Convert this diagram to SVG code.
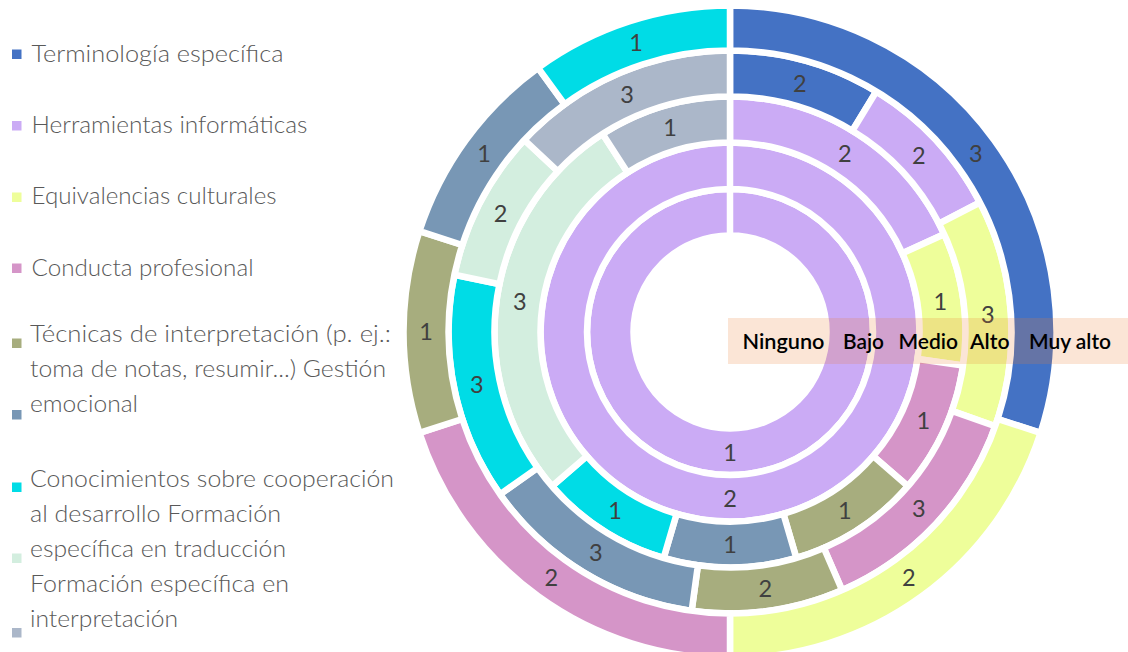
<svg xmlns="http://www.w3.org/2000/svg" width="1128" height="652" viewBox="0 0 1128 652">
<style>
.seg{stroke:#FFFFFF;stroke-width:6.5;stroke-linejoin:miter}
.c-blue{fill:#4472C4}.c-purple{fill:#CBABF5}.c-yellow{fill:#EEFE9A}.c-pink{fill:#D595C8}
.c-olive{fill:#A7AD7E}.c-steel{fill:#7897B5}.c-cyan{fill:#00DCE6}.c-mint{fill:#D3EEDF}.c-grey{fill:#ABB7C9}
.val{font-family:Lato,"Noto Sans","Liberation Sans",sans-serif;font-size:23.5px;fill:#404040;text-anchor:middle}
.leg{font-family:Lato,"Noto Sans","Liberation Sans",sans-serif;font-size:24px;font-weight:300;fill:#595959}
.band{font-family:Lato,"Noto Sans","Liberation Sans",sans-serif;font-size:20.5px;font-weight:600;fill:#000000}
</style>
<rect x="0" y="0" width="1128" height="652" fill="#FFFFFF"/>
<g id="legend">
<g id="leg-terminologia"><rect class="c-blue" x="12" y="49.5" width="9.5" height="9.5"/><text class="leg" x="31.5" y="62" textLength="252" lengthAdjust="spacingAndGlyphs">Terminología específica</text></g>
<g id="leg-herramientas"><rect class="c-purple" x="12" y="121" width="9.5" height="9.5"/><text class="leg" x="31.5" y="133" textLength="276" lengthAdjust="spacingAndGlyphs">Herramientas informáticas</text></g>
<g id="leg-equivalencias"><rect class="c-yellow" x="12" y="192.5" width="9.5" height="9.5"/><text class="leg" x="31.5" y="204" textLength="245" lengthAdjust="spacingAndGlyphs">Equivalencias culturales</text></g>
<g id="leg-conducta"><rect class="c-pink" x="12" y="263.5" width="9.5" height="9.5"/><text class="leg" x="31.5" y="275.5" textLength="222" lengthAdjust="spacingAndGlyphs">Conducta profesional</text></g>
<g id="leg-tecnicas"><rect class="c-olive" x="12" y="338.5" width="9.5" height="9.5"/><text class="leg" x="30" y="342" textLength="361" lengthAdjust="spacingAndGlyphs">Técnicas de interpretación (p. ej.:</text><text class="leg" x="30" y="377" textLength="356" lengthAdjust="spacingAndGlyphs">toma de notas, resumir...) Gestión</text></g>
<g id="leg-emocional"><rect class="c-steel" x="12" y="410" width="9.5" height="9.5"/><text class="leg" x="30" y="412" textLength="108" lengthAdjust="spacingAndGlyphs">emocional</text></g>
<g id="leg-cooperacion"><rect class="c-cyan" x="12" y="482.5" width="9.5" height="9.5"/><text class="leg" x="30" y="487" textLength="364" lengthAdjust="spacingAndGlyphs">Conocimientos sobre cooperación</text><text class="leg" x="30" y="522" textLength="251" lengthAdjust="spacingAndGlyphs">al desarrollo Formación</text></g>
<g id="leg-traduccion"><rect class="c-mint" x="12" y="553.5" width="9.5" height="9.5"/><text class="leg" x="30" y="557" textLength="256" lengthAdjust="spacingAndGlyphs">específica en traducción</text><text class="leg" x="30" y="592" textLength="259" lengthAdjust="spacingAndGlyphs">Formación específica en</text></g>
<g id="leg-interpretacion"><rect class="c-grey" x="12" y="628" width="9.5" height="9.5"/><text class="leg" x="30" y="627" textLength="148" lengthAdjust="spacingAndGlyphs">interpretación</text></g>
</g>
<g id="ring1-ninguno">
<path class="seg c-purple" d="M730,189 A143,143 0 0 1 730,475 A143,143 0 0 1 730,189 L730,235.5 A96.5,96.5 0 0 0 730,428.5 A96.5,96.5 0 0 0 730,235.5 Z"/>
<text class="val" x="730" y="460.5">1</text>
</g>
<g id="ring2-bajo">
<path class="seg c-purple" d="M730,142.5 A189.5,189.5 0 0 1 730,521.5 A189.5,189.5 0 0 1 730,142.5 L730,189 A143,143 0 0 0 730,475 A143,143 0 0 0 730,189 Z"/>
<text class="val" x="730" y="506.5">2</text>
</g>
<g id="ring3-medio">
<path class="seg c-purple" d="M730,96.5 A235.5,235.5 0 0 1 944.22,234.17 L902.38,253.28 A189.5,189.5 0 0 0 730,142.5 Z"/>
<path class="seg c-yellow" d="M944.22,234.17 A235.5,235.5 0 0 1 963.10,365.51 L917.57,358.97 A189.5,189.5 0 0 0 902.38,253.28 Z"/>
<path class="seg c-pink" d="M963.10,365.51 A235.5,235.5 0 0 1 907.98,486.22 L873.21,456.10 A189.5,189.5 0 0 0 917.57,358.97 Z"/>
<path class="seg c-olive" d="M907.98,486.22 A235.5,235.5 0 0 1 796.35,557.96 L783.39,513.83 A189.5,189.5 0 0 0 873.21,456.10 Z"/>
<path class="seg c-steel" d="M796.35,557.96 A235.5,235.5 0 0 1 663.65,557.96 L676.61,513.83 A189.5,189.5 0 0 0 783.39,513.83 Z"/>
<path class="seg c-cyan" d="M663.65,557.96 A235.5,235.5 0 0 1 552.02,486.22 L586.79,456.10 A189.5,189.5 0 0 0 676.61,513.83 Z"/>
<path class="seg c-mint" d="M552.02,486.22 A235.5,235.5 0 0 1 602.68,133.89 L627.55,172.58 A189.5,189.5 0 0 0 586.79,456.10 Z"/>
<path class="seg c-grey" d="M602.68,133.89 A235.5,235.5 0 0 1 730,96.5 L730,142.5 A189.5,189.5 0 0 0 627.55,172.58 Z"/>
<text class="val" x="844.9" y="161.5">2</text>
<text class="val" x="940.3" y="310">1</text>
<text class="val" x="923.3" y="428.5">1</text>
<text class="val" x="844.9" y="519">1</text>
<text class="val" x="730" y="552.5">1</text>
<text class="val" x="615.1" y="519">1</text>
<text class="val" x="519.7" y="310">3</text>
<text class="val" x="670.1" y="136">1</text>
</g>
<g id="ring4-alto">
<path class="seg c-blue" d="M730,50.5 A281.5,281.5 0 0 1 876.26,91.48 L852.36,130.78 A235.5,235.5 0 0 0 730,96.5 Z"/>
<path class="seg c-purple" d="M876.26,91.48 A281.5,281.5 0 0 1 979.94,202.49 L939.10,223.66 A235.5,235.5 0 0 0 852.36,130.78 Z"/>
<path class="seg c-yellow" d="M979.94,202.49 A281.5,281.5 0 0 1 995.25,426.27 L951.90,410.86 A235.5,235.5 0 0 0 939.10,223.66 Z"/>
<path class="seg c-pink" d="M995.25,426.27 A281.5,281.5 0 0 1 842.15,590.20 L823.82,548.00 A235.5,235.5 0 0 0 951.90,410.86 Z"/>
<path class="seg c-olive" d="M842.15,590.20 A281.5,281.5 0 0 1 691.67,610.88 L697.93,565.31 A235.5,235.5 0 0 0 823.82,548.00 Z"/>
<path class="seg c-steel" d="M691.67,610.88 A281.5,281.5 0 0 1 500.02,494.34 L537.60,467.81 A235.5,235.5 0 0 0 697.93,565.31 Z"/>
<path class="seg c-cyan" d="M500.02,494.34 A281.5,281.5 0 0 1 454.39,274.73 L499.43,284.09 A235.5,235.5 0 0 0 537.60,467.81 Z"/>
<path class="seg c-mint" d="M454.39,274.73 A281.5,281.5 0 0 1 524.27,139.86 L557.89,171.26 A235.5,235.5 0 0 0 499.43,284.09 Z"/>
<path class="seg c-grey" d="M524.27,139.86 A281.5,281.5 0 0 1 730,50.5 L730,96.5 A235.5,235.5 0 0 0 557.89,171.26 Z"/>
<text class="val" x="799.7" y="91.5">2</text>
<text class="val" x="918.9" y="164">2</text>
<text class="val" x="987.9" y="322.5">3</text>
<text class="val" x="918.9" y="516.5">3</text>
<text class="val" x="765.2" y="596.5">2</text>
<text class="val" x="595.7" y="561">3</text>
<text class="val" x="476.9" y="393">3</text>
<text class="val" x="500.5" y="221.5">2</text>
<text class="val" x="627" y="103">3</text>
</g>
<g id="ring5-muyalto">
<path class="seg c-blue" d="M730,5.5 A326.5,326.5 0 0 1 1040.52,432.90 L997.72,418.99 A281.5,281.5 0 0 0 730,50.5 Z"/>
<path class="seg c-yellow" d="M1040.52,432.90 A326.5,326.5 0 0 1 730,658.5 L730,613.5 A281.5,281.5 0 0 0 997.72,418.99 Z"/>
<path class="seg c-pink" d="M730,658.5 A326.5,326.5 0 0 1 419.48,432.90 L462.28,418.99 A281.5,281.5 0 0 0 730,613.5 Z"/>
<path class="seg c-olive" d="M419.48,432.90 A326.5,326.5 0 0 1 419.48,231.10 L462.28,245.01 A281.5,281.5 0 0 0 462.28,418.99 Z"/>
<path class="seg c-steel" d="M419.48,231.10 A326.5,326.5 0 0 1 538.09,67.86 L564.54,104.26 A281.5,281.5 0 0 0 462.28,245.01 Z"/>
<path class="seg c-cyan" d="M538.09,67.86 A326.5,326.5 0 0 1 730,5.5 L730,50.5 A281.5,281.5 0 0 0 564.54,104.26 Z"/>
<text class="val" x="975.9" y="161.5">3</text>
<text class="val" x="908.7" y="586">2</text>
<text class="val" x="551.3" y="586">2</text>
<text class="val" x="426" y="340">1</text>
<text class="val" x="484.1" y="161.5">1</text>
<text class="val" x="636.1" y="51">1</text>
</g>
<g id="level-band">
<rect x="728" y="318" width="400" height="46" fill="#ED7D31" fill-opacity="0.2"/>
<text class="band" x="742.5" y="348.5" textLength="82" lengthAdjust="spacingAndGlyphs">Ninguno</text>
<text class="band" x="843" y="348.5" textLength="41" lengthAdjust="spacingAndGlyphs">Bajo</text>
<text class="band" x="898.5" y="348.5" textLength="59.5" lengthAdjust="spacingAndGlyphs">Medio</text>
<text class="band" x="970" y="348.5" textLength="39.5" lengthAdjust="spacingAndGlyphs">Alto</text>
<text class="band" x="1029" y="348.5" textLength="82" lengthAdjust="spacingAndGlyphs">Muy alto</text>
</g>
</svg>
